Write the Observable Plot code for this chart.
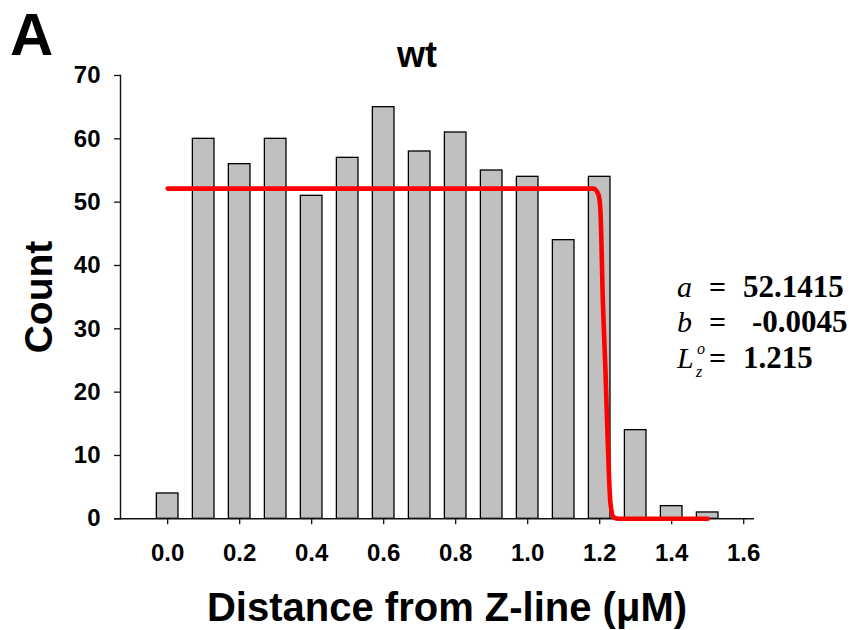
<!DOCTYPE html>
<html>
<head>
<meta charset="utf-8">
<script src="https://cdn.jsdelivr.net/npm/d3@7"></script>
<script src="https://cdn.jsdelivr.net/npm/@observablehq/plot@0.6"></script>
<style>
  html, body { margin: 0; padding: 0; background: #fff; }
  #chart { width: 855px; height: 630px; position: relative; }
</style>
</head>
<body>
<div id="chart"></div>
<script>
// Histogram bins (bin centers, µm) and counts
const binCenters = [0.0, 0.1, 0.2, 0.3, 0.4, 0.5, 0.6, 0.7, 0.8, 0.9, 1.0, 1.1, 1.2, 1.3, 1.4, 1.5];
const counts     = [4,   60,  56,  60,  51,  57,  65,  58,  61,  55,  54,  44,  54,  14,  2,   1];

// Fitted curve, points
const fitX = [0.0, 1.183, 1.197, 1.202, 1.209, 1.216, 1.222, 1.230, 1.239, 1.253, 1.5];
const fitY = [52.14, 52.14, 51.1, 48.7, 34, 23.4, 12.9, 2.4, 0.25, 0, 0];

// Axis ticks
const xTicks = [0, 0.2, 0.4, 0.6, 0.8, 1.0, 1.2, 1.4, 1.6];
const yTicks = [0, 10, 20, 30, 40, 50, 60, 70];

// Fit parameters
const fitParams = [
  {name: "a", value: "52.1415"},
  {name: "b", value: "-0.0045"},
  {name: "L", value: "1.215"}
];

const bars = binCenters.map((x, i) => ({x, count: counts[i]}));
const fit = fitX.map((x, i) => ({x, y: fitY[i]}));

const sans = "'Liberation Sans', Arial, Helvetica, sans-serif";
const serif = "'Liberation Serif', 'Times New Roman', serif";
const halfBar = 0.03;

const plot = Plot.plot({
  width: 855,
  height: 630,
  marginLeft: 120,
  marginRight: 101,
  marginTop: 75,
  marginBottom: 111.7,
  style: {fontFamily: sans, background: "#fff", color: "#000"},
  x: {domain: [-0.131, 1.63]},
  y: {domain: [0, 70]},
  marks: [
    Plot.rectY(bars, {
      x1: d => d.x - halfBar,
      x2: d => d.x + halfBar,
      y: "count",
      fill: "#c0c0c0",
      stroke: "#000",
      strokeWidth: 1.3
    }),
    Plot.ruleY([0], {insetLeft: -6, stroke: "#111", strokeWidth: 1.4}),
    Plot.frame({anchor: "left", stroke: "#111", strokeWidth: 1.4}),
    Plot.axisX({
      ticks: xTicks,
      tickFormat: d3.format(".1f"),
      tickSize: 6,
      tickPadding: 19,
      fontSize: 24,
      fontWeight: "bold",
      stroke: "#111",
      strokeWidth: 1.3,
      label: null
    }),
    Plot.axisY({
      ticks: yTicks,
      tickSize: 6,
      tickPadding: 14,
      fontSize: 24,
      fontWeight: "bold",
      stroke: "#111",
      strokeWidth: 1.3,
      label: null
    }),
    Plot.line(fit, {x: "x", y: "y", stroke: "#ff0000", strokeWidth: 4.6, curve: "monotone-x"})
  ]
});

document.getElementById("chart").appendChild(plot);

const svg = d3.select(plot);

function addText(x, y, str, opts) {
  const t = svg.append("text")
    .attr("x", x).attr("y", y)
    .attr("text-anchor", opts.anchor || "start")
    .attr("font-family", opts.family || sans)
    .attr("font-weight", opts.weight || "normal")
    .attr("font-style", opts.style || "normal")
    .attr("font-size", opts.size)
    .attr("fill", "#000")
    .text(str);
  if (opts.transform) t.attr("transform", opts.transform);
  return t;
}

// Panel letter
addText(10, 55, "A", {weight: "bold", size: 60});
// Title
addText(417, 67, "wt", {weight: "bold", size: 36, anchor: "middle"});
// Y label
addText(0, 0, "Count", {weight: "bold", size: 39, anchor: "middle", transform: "translate(52,297) rotate(-90)"});
// X label
addText(447, 621, "Distance from Z-line (μM)", {weight: "bold", size: 40, anchor: "middle"});

// Fit annotation
const rows = [297, 332, 368];
fitParams.forEach((p, i) => {
  addText(677, rows[i], p.name, {family: serif, style: "italic", size: 30});
  if (p.name === "L") {
    addText(696, rows[i] + 9, "z", {family: serif, style: "italic", size: 16});
    addText(697, rows[i] - 14, "o", {family: serif, style: "italic", size: 16});
  }
  addText(709, rows[i], "=", {family: serif, weight: "bold", size: 30});
  addText(p.value.startsWith("-") ? 752 : 743, rows[i], p.value, {family: serif, weight: "bold", size: 31});
});
</script>
</body>
</html>
